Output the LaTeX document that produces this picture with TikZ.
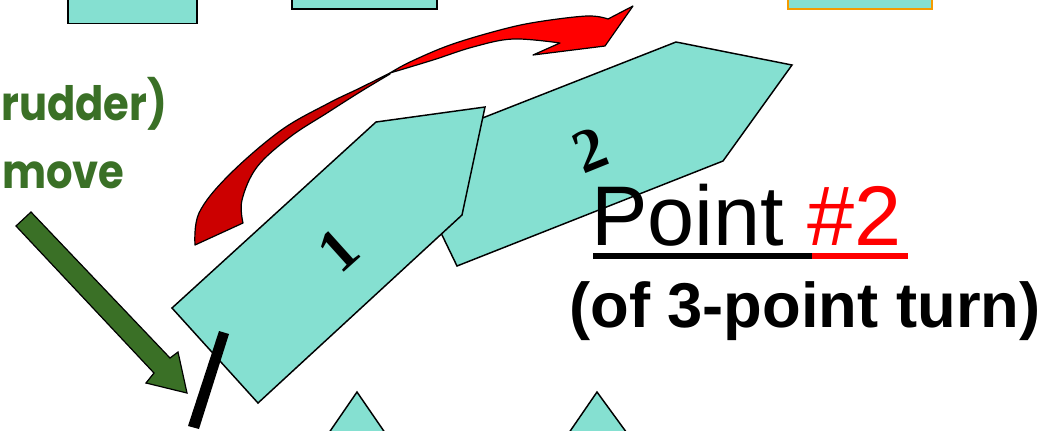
\documentclass[tikz,border=0pt]{standalone}
\usepackage{fontspec}
\newfontfamily\arialf{Liberation Sans}
\newfontfamily\serff{Liberation Serif}
\newfontfamily\comicf{Poppins}
\definecolor{boatcyan}{RGB}{133,224,209}
\definecolor{darkred}{RGB}{204,0,0}
\definecolor{brightred}{RGB}{255,0,0}
\definecolor{leafgreen}{RGB}{58,112,38}
\definecolor{orangeedge}{RGB}{245,155,0}
\tikzset{
  boat/.style={fill=boatcyan, draw=black, line width=1.1pt, line join=miter},
  topbox/.style={fill=boatcyan, draw=black, line width=1.3pt},
  boatnum/.style={font=\serff\bfseries\fontsize{46}{50}\selectfont, inner sep=0pt},
  greentext/.style={font=\comicf\bfseries\fontsize{35.5}{40}\selectfont, text=leafgreen, inner sep=0pt, xscale=0.88},
  ribbon/.style={draw=black, line width=0.9pt, line join=round}
}
\begin{document}
\begin{tikzpicture}[x=0.75pt,y=-0.75pt]
\useasboundingbox (0,0) rectangle (1063,430);
\clip (0,0) rectangle (1063,430);
\fill[white] (0,0) rectangle (1063,430);

% top boxes
\draw[topbox] (68,-10) rectangle (197,23.5);
\draw[topbox] (292,-10) rectangle (437,9);
\draw[topbox, draw=orangeedge, line width=1.6pt] (788,-10) rectangle (932,9);

% bottom triangles
\draw[boat] (357,392) -- (390,440) -- (324,440) -- cycle;
\draw[boat] (597,392) -- (632,440) -- (564,440) -- cycle;

% boat 2 (behind)
\draw[boat] (401,150) -- (676,42) -- (792,65) -- (723,161) -- (457,266) -- cycle;
% boat 1
\draw[boat] (172,308) -- (376,122) -- (485,107) -- (462,215) -- (258,403) -- cycle;

\node[boatnum, rotate=42] (n1) at (338,250) {1};
\node[boatnum, rotate=22] (n2) at (590,150) {2};

% red curved arrow: dark (back) part
\fill[darkred, ribbon] plot[smooth, tension=0.6] coordinates {(390,73) (360,88) (327,104) (280,131) (228,176) (199,213) (195,245)}
  -- plot[smooth, tension=0.6] coordinates {(243,223) (242,200) (257,167) (290,137) (327,113) (360,92) (390,74)} -- cycle;
% red curved arrow: bright (front) part with head
\fill[brightred, ribbon] plot[smooth, tension=0.6] coordinates {(390,73) (410,62) (450,45) (500,30) (537,22) (587,16) (608,19)}
  -- (633,6) -- (605,46) -- (533,55) -- (560,43)
  -- plot[smooth, tension=0.6] coordinates {(560,43) (513,39) (473,47) (433,60) (390,73)} -- cycle;

% green block arrow
\draw[fill=leafgreen, draw=black, line width=0.9pt, line join=miter]
  (31,212) -- (170,358) -- (178,352) -- (187,393) -- (146,383) -- (154,373) -- (16,226) -- cycle;

% rudder
\fill[black] (219,331) -- (229,334) -- (199,429) -- (188,426) -- cycle;

% green text
\node[greentext, anchor=base west] (rud) at (1,120) {rudder)};
\node[greentext, anchor=base west] (mov) at (2,188) {move};

% title texts
\node[font=\arialf\fontsize{63.5}{70}\selectfont, inner sep=0pt, anchor=base west] (pt) at (591,245) {Point\ \textcolor{brightred}{\#2}};
\fill[black] (593,253) rectangle (812,259);
\fill[brightred] (812,253) rectangle (908,259);
\node[font=\arialf\bfseries\fontsize{47.5}{52}\selectfont, inner sep=0pt, anchor=base west] (sub) at (569,327) {(of 3-point turn)};
\end{tikzpicture}
\end{document}
